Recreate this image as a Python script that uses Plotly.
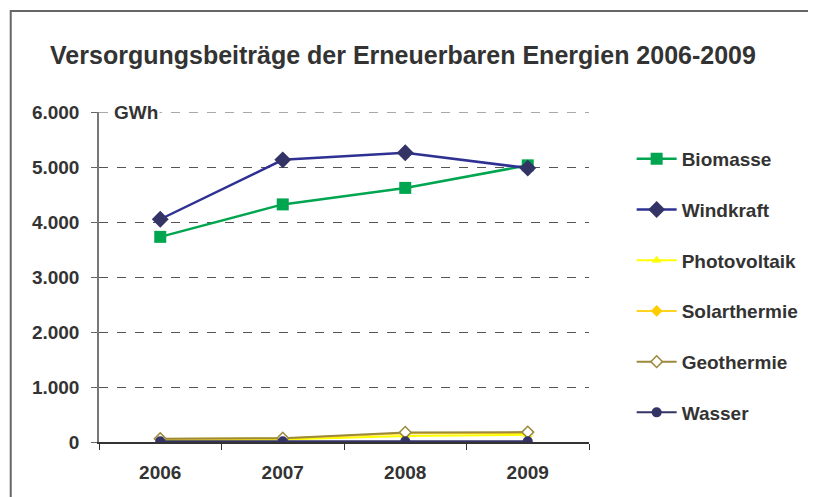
import plotly.graph_objects as go

years = ["2006", "2007", "2008", "2009"]
biomasse = [3730, 4320, 4620, 5030]
windkraft = [4050, 5130, 5260, 4980]
photovoltaik = [25, 45, 110, 130]
solarthermie = [55, 65, 160, 165]
geothermie = [60, 70, 175, 180]
wasser = [15, 15, 15, 15]
y_ticks = [0, 1000, 2000, 3000, 4000, 5000, 6000]

OFF = 8  # default page body margin
W, H = 816 - OFF, 497 - OFF
L, R, T, B = 99 - OFF, 593 - OFF, 112 - OFF, 442 - OFF

fig = go.Figure()

series = [
    ("Biomasse", biomasse, "#00A550", 2.5, dict(symbol="square", size=12, color="#00A550")),
    ("Windkraft", windkraft, "#2E3192", 2.5, dict(symbol="diamond", size=13, color="#333366")),
    ("Photovoltaik", photovoltaik, "#FFFF00", 2, dict(symbol="triangle-up", size=9, color="#FFFF00")),
    ("Solarthermie", solarthermie, "#FFD320", 2, dict(symbol="diamond", size=9, color="#FFCC00")),
    ("Geothermie", geothermie, "#9C8A3C", 2, dict(symbol="diamond", size=9, color="#FFFFFF",
                                                  line=dict(color="#9C8A3C", width=1.5))),
    ("Wasser", wasser, "#333366", 2, dict(symbol="circle", size=10, color="#333366")),
]

for name, vals, col, lw, mk in series:
    fig.add_trace(go.Scatter(
        x=years, y=vals, name=name, mode="lines+markers",
        line=dict(color=col, width=lw), marker=mk, legendgroup=name,
    ))

# outer chart border
fig.add_shape(type="rect", xref="paper", yref="paper",
              x0=(10 - OFF - L) / (R - L), x1=(830 - L) / (R - L),
              y0=-(520 - B) / (B - T), y1=1 + (T - (11 - OFF)) / (B - T),
              line=dict(color="#666666", width=2), fillcolor="rgba(0,0,0,0)", layer="below")

# top gridline (plotly omits the grid line at the plot edge)
fig.add_shape(type="line", xref="paper", yref="y", x0=0, x1=1, y0=y_ticks[-1], y1=y_ticks[-1],
              line=dict(color="#555555", width=1, dash="dash"), layer="below")

fig.add_annotation(text="<b>GWh</b>", xref="paper", yref="y", x=(112 - OFF - L) / (R - L), y=y_ticks[-1],
                   xanchor="left", yanchor="middle", showarrow=False,
                   font=dict(family="Liberation Sans, Arial", size=19, color="#333333"),
                   bgcolor="white", borderpad=1)

fig.update_layout(
    width=W, height=H,
    margin=dict(l=L, r=W - R, t=T, b=H - B, pad=0),
    paper_bgcolor="white", plot_bgcolor="white",
    separators=",.",
    font=dict(family="Liberation Sans, Arial", color="#333333"),
    title=dict(text="<b>Versorgungsbeiträge der Erneuerbaren Energien 2006-2009</b>",
               x=(403 - OFF) / W, xanchor="center", y=1 - (55 - OFF) / H, yanchor="middle",
               font=dict(size=25, color="#333333")),
    legend=dict(x=(636 - OFF - L) / (R - L), xanchor="left", y=1 - (140 - OFF - T) / (B - T), yanchor="top",
                font=dict(size=19, color="#333333", weight="bold"),
                tracegroupgap=23, bgcolor="rgba(0,0,0,0)", itemwidth=40),
    xaxis=dict(type="category", tickson="boundaries", ticks="outside", ticklen=6,
               tickcolor="#333333", showline=True, linecolor="#333333", linewidth=1.5,
               showgrid=False, range=[-0.5, 3.5],
               tickfont=dict(size=19, color="#333333", weight="bold"), ticklabelstandoff=12),
    yaxis=dict(range=[0, 6000], tickvals=y_ticks,
               tickformat=",.0f", ticks="outside", ticklen=6,
               tickcolor="#666666", showline=True, linecolor="#777777", linewidth=1.5,
               showgrid=True, gridcolor="#555555", griddash="dash", gridwidth=1,
               zeroline=False,
               tickfont=dict(size=19, color="#333333", weight="bold"), ticklabelstandoff=8),
    showlegend=True,
)

fig.write_html("out.html")
